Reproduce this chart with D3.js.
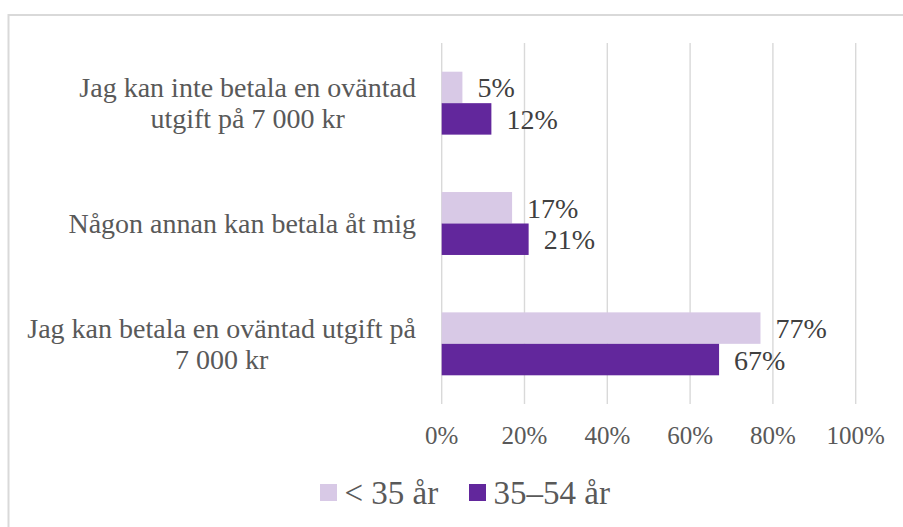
<!DOCTYPE html>
<html>
<head>
<meta charset="utf-8">
<script src="https://cdn.jsdelivr.net/npm/d3@7"></script>
<style>
  html, body { margin: 0; padding: 0; background: #fff; overflow: hidden; }
  text { font-family: "Liberation Serif", "Times New Roman", serif; }
</style>
</head>
<body>
<div class="chart-wrapper"></div>
<script>
// categories, top to bottom (each label split into its wrapped lines)
const categories = [
  ["Jag kan inte betala en oväntad", "utgift på 7 000 kr"],
  ["Någon annan kan betala åt mig"],
  ["Jag kan betala en oväntad utgift på", "7 000 kr"]
];
const seriesNames = ["< 35 år", "35–54 år"];
const under35 = [0.05, 0.17, 0.77];
const age35to54 = [0.12, 0.21, 0.67];
const xTicks = [0, 0.2, 0.4, 0.6, 0.8, 1.0];

const seriesColors = ["#d8c9e6", "#62279c"];

const width = 903, height = 527;

const svg = d3.select(".chart-wrapper")
  .append("svg")
  .attr("width", width)
  .attr("height", height);

// chart frame
svg.append("rect")
  .attr("x", 8.5)
  .attr("y", 15)
  .attr("width", 905)
  .attr("height", 530)
  .attr("fill", "none")
  .attr("stroke", "#d9d9d9")
  .attr("stroke-width", 2);

// scales
const x = d3.scaleLinear().domain([0, 1]).range([441.7, 855.7]);
const catIdx = categories.map((d, i) => i);
const y = d3.scaleBand()
  .domain(catIdx)
  .range([43, 404])
  .paddingInner(0.477)
  .paddingOuter(0.2385);
const ySeries = d3.scaleBand()
  .domain([0, 1])
  .range([0, y.bandwidth()]);

// gridlines
svg.append("g")
  .selectAll("line")
  .data(xTicks)
  .enter()
  .append("line")
  .attr("x1", d => x(d))
  .attr("x2", d => x(d))
  .attr("y1", 43)
  .attr("y2", 404)
  .attr("stroke", "#d9d9d9")
  .attr("stroke-width", 1.4);

// x tick labels
svg.append("g")
  .selectAll("text")
  .data(xTicks)
  .enter()
  .append("text")
  .attr("x", d => x(d))
  .attr("y", 444)
  .attr("text-anchor", "middle")
  .attr("font-size", "25px")
  .attr("fill", "#595959")
  .text(d => d3.format(".0%")(d));

// bars
const rows = categories.map((c, i) => [under35[i], age35to54[i]]);
const groups = svg.append("g")
  .selectAll("g")
  .data(rows)
  .enter()
  .append("g")
  .attr("transform", (d, i) => `translate(0,${y(i)})`);

groups.selectAll("rect")
  .data(d => d)
  .enter()
  .append("rect")
  .attr("x", x(0))
  .attr("y", (d, j) => ySeries(j))
  .attr("width", d => x(d) - x(0))
  .attr("height", ySeries.bandwidth())
  .attr("fill", (d, j) => seriesColors[j]);

// data labels
groups.selectAll("text")
  .data(d => d)
  .enter()
  .append("text")
  .attr("x", d => x(d) + 15)
  .attr("y", (d, j) => ySeries(j) + ySeries.bandwidth() / 2 + 10)
  .attr("font-size", "28px")
  .attr("fill", "#404040")
  .text(d => d3.format(".0%")(d));

// category labels: block right-aligned, lines centred within block
const labelRight = 416;
const lineHeight = 31;
categories.forEach((lines, i) => {
  const g = svg.append("g");
  const texts = lines.map((line, k) => g.append("text")
    .attr("font-size", "28px")
    .attr("fill", "#595959")
    .attr("text-anchor", "middle")
    .text(line));
  const maxW = d3.max(texts, t => t.node().getComputedTextLength());
  const cy = y(i) + y.bandwidth() / 2;
  const firstBaseline = cy + 9.5 - (lines.length - 1) * lineHeight / 2;
  texts.forEach((t, k) => {
    t.attr("x", labelRight - maxW / 2)
      .attr("y", firstBaseline + k * lineHeight);
  });
});

// legend
const legendItems = [
  { name: seriesNames[0], color: seriesColors[0], x: 320 },
  { name: seriesNames[1], color: seriesColors[1], x: 469 }
];
const legend = svg.append("g").attr("class", "legend");
legend.selectAll("rect")
  .data(legendItems)
  .enter()
  .append("rect")
  .attr("x", d => d.x)
  .attr("y", 484)
  .attr("width", 17)
  .attr("height", 17)
  .attr("fill", d => d.color);
legend.selectAll("text")
  .data(legendItems)
  .enter()
  .append("text")
  .attr("x", d => d.x + 24.5)
  .attr("y", 503.5)
  .attr("font-size", "33px")
  .attr("fill", "#595959")
  .text(d => d.name);
</script>
</body>
</html>
